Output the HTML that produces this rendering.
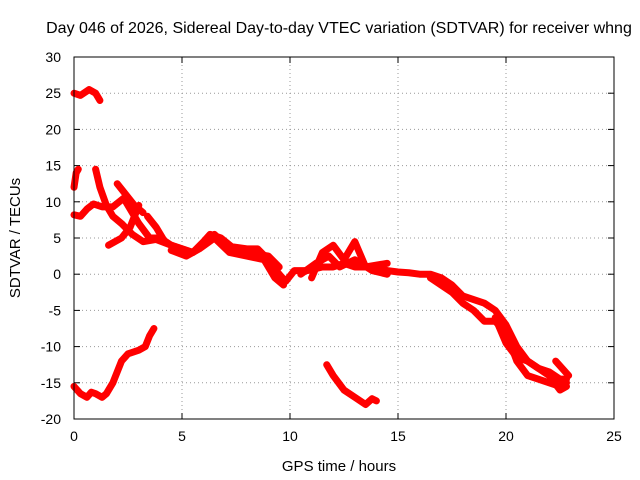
<!DOCTYPE html>
<html><head><meta charset="utf-8"><style>
body{margin:0;background:#fff}
svg{display:block;font-family:"Liberation Sans",sans-serif}
</style></head><body>
<svg id="chart" width="640" height="480">
<rect x="0" y="0" width="640" height="480" fill="#fff"/>
<text x="339" y="33" font-size="16" text-anchor="middle">Day 046 of 2026, Sidereal Day-to-day VTEC variation (SDTVAR) for receiver whng</text>
<text x="339" y="471" font-size="15" text-anchor="middle">GPS time / hours</text>
<text x="20" y="238" font-size="15" text-anchor="middle" transform="rotate(-90 20 238)">SDTVAR / TECUs</text>
<g id="grid"></g><g id="series"></g>
<rect x="74" y="57" width="540" height="362" fill="none" stroke="#000" stroke-width="1"/>
</svg>
<script>
const xTicks=[0,5,10,15,20,25];
const yTicks=[-20,-15,-10,-5,0,5,10,15,20,25,30];
const trackA=[[0,25],[0.3,24.7],[0.7,25.5],[1.0,25],[1.2,24]];
const trackB=[[0,-15.5],[0.3,-16.5],[0.6,-17],[0.8,-16.3],[1.0,-16.5],[1.3,-17],[1.5,-16.5],[1.8,-15],[2.2,-12],[2.5,-11],[3.0,-10.5],[3.3,-10],[3.5,-8.5],[3.7,-7.5]];
const trackC=[[0,12],[0.1,14],[0.2,14.5]];
const trackD=[[0,8.2],[0.3,8],[0.6,9],[0.9,9.7],[1.3,9.3],[1.8,9.3],[2.3,10.5],[2.6,9],[3.0,7],[3.5,5],[4,5],[4.5,4],[5,3.5],[5.5,3],[6,4.5],[6.3,5.5],[6.8,5],[7.3,3.8],[8,3.5],[8.5,3.5],[9,2],[9.5,0],[9.8,-1],[10.2,0.5],[10.8,0.5],[11.5,1],[12,1],[12.5,1.5],[13,1],[14,1],[14.5,0.5],[15,0.3],[15.5,0.2],[16,0],[16.5,0],[17,-0.5],[17.5,-1.5],[18,-3],[18.5,-3.5],[19,-4],[19.5,-5],[20,-7],[20.5,-10],[21,-12],[21.5,-13],[22,-13.5],[22.5,-14.5],[22.8,-14.5]];
const trackE=[[1.0,14.5],[1.2,12],[1.5,9.5],[1.8,8],[2.2,7],[2.7,5.5],[3.2,4.5],[3.8,4.8],[4.5,4],[5.5,3],[6,4],[6.5,5.5],[7,4],[8,3],[9,2.5],[9.5,1]];
const trackE2=[[4.5,3.3],[5.2,2.5],[5.8,3.5],[6.5,5],[7.2,3],[8,2.5],[8.8,2],[9.3,-0.5],[9.7,-1.5]];
const trackF=[[2.0,12.5],[2.4,11],[2.8,9.5],[3.2,8.5]];
const trackG=[[1.6,4],[2.2,5],[2.6,6.5],[3.0,9.5]];
const trackH=[[3.4,8],[3.8,6.5],[4.2,4.5],[4.8,3.5]];
const trackI=[[11,-0.5],[11.5,3],[12,4],[12.5,2],[13,4.5],[13.5,1],[14.5,1.5]];
const trackI2=[[10.5,0],[11.2,1.5],[11.8,2.5],[12.3,1],[13,2],[13.8,0.5],[14.5,0]];
const trackJ=[[16.5,-0.5],[17,-1.5],[17.5,-2.5],[18,-4],[18.5,-5],[19,-6.5],[19.5,-6.5],[20,-8],[20.5,-12],[21,-14],[21.5,-14.5],[22,-15],[22.5,-15.5],[22.8,-15]];
const trackK=[[19.5,-6],[20,-9.5],[20.5,-11.5],[21,-12],[21.5,-13],[22,-14],[22.5,-16],[22.8,-15.5]];
const trackL=[[22.3,-12],[22.6,-13],[22.9,-14]];
const trackM=[[11.7,-12.5],[12,-14],[12.5,-16],[13,-17],[13.5,-18],[13.8,-17.2],[14,-17.5]];
const tracks=[trackA,trackB,trackC,trackD,trackE,trackE2,trackF,trackG,trackH,trackI,trackI2,trackJ,trackK,trackL,trackM];

const NS="http://www.w3.org/2000/svg";
function xs(v){return 74+(v-0)/25*540;}
function ys(v){return 419-(v+20)/50*362;}
const grid=document.getElementById('grid');
function mk(tag,attrs,parent){const e=document.createElementNS(NS,tag);for(const k in attrs)e.setAttribute(k,attrs[k]);parent.appendChild(e);return e;}
xTicks.forEach(t=>{
  const x=xs(t);
  if(t>0&&t<25){const g=mk('line',{x1:x,x2:x,y1:57,y2:419,stroke:'#999','stroke-dasharray':'1,3'},grid);
  
  }
  mk('line',{x1:x,x2:x,y1:419,y2:413,stroke:'#000'},grid);
  mk('line',{x1:x,x2:x,y1:57,y2:63,stroke:'#000'},grid);
  const l=mk('text',{x:x,y:441,'font-size':14,'text-anchor':'middle'},grid);l.textContent=t;
  
  
});
yTicks.forEach(t=>{
  const y=ys(t);
  if(t>-20&&t<30){const g=mk('line',{x1:74,x2:614,y1:y,y2:y,stroke:'#999','stroke-dasharray':'1,3'},grid);
  
  }
  mk('line',{x1:74,x2:80,y1:y,y2:y,stroke:'#000'},grid);
  mk('line',{x1:614,x2:608,y1:y,y2:y,stroke:'#000'},grid);
  const l=mk('text',{x:61,y:y+5,'font-size':14,'text-anchor':'end'},grid);l.textContent=t;
  
  
});
const ser=document.getElementById('series');
tracks.forEach((tr,i)=>{
  const p=mk('polyline',{points:tr.map(d=>xs(d[0])+','+ys(d[1])).join(' '),fill:'none',stroke:'#f00','stroke-width':7,'stroke-linejoin':'round','stroke-linecap':'round'},ser);
  
  
});
</script>
</body></html>
